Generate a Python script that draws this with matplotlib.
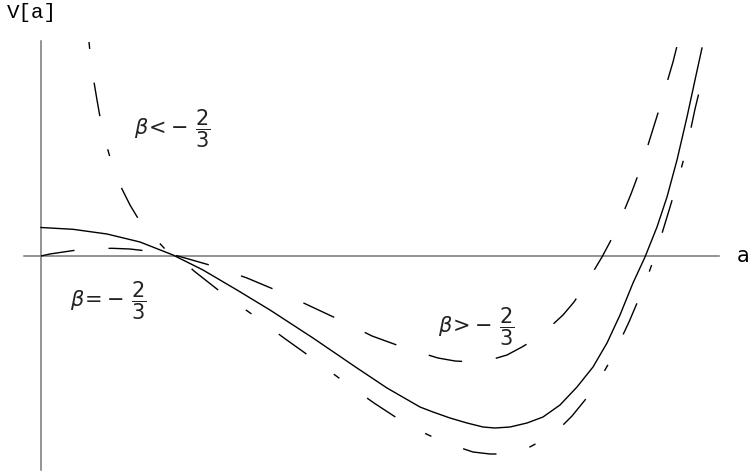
import matplotlib
matplotlib.use("Agg")
import matplotlib.pyplot as plt

plt.rcParams['mathtext.fontset'] = 'dejavusans'

# beta = -2/3 (solid)
a_eq = [0, 0.16, 0.33, 0.495, 0.66, 0.81, 0.98, 1.145, 1.36, 1.58, 1.73, 1.895,
        1.96, 2.045, 2.13, 2.21, 2.27, 2.345, 2.43, 2.51, 2.595, 2.68, 2.76, 2.83,
        2.895, 2.96, 3.02, 3.08, 3.13, 3.18, 3.23, 3.27, 3.305]
v_eq = [0.285, 0.267, 0.22, 0.14, 0.01, -0.14, -0.34, -0.54, -0.82, -1.12, -1.32, -1.51,
        -1.56, -1.62, -1.67, -1.71, -1.72, -1.71, -1.67, -1.61, -1.49, -1.31, -1.11, -0.87,
        -0.59, -0.27, -0.01, 0.29, 0.59, 0.96, 1.39, 1.76, 2.08]

# beta > -2/3 (long dashes)
a_gt = [0, 0.045, 0.095, 0.18, 0.27, 0.355, 0.445, 0.53, 0.62, 0.685, 0.755, 0.86,
        0.945, 1.03, 1.185, 1.345, 1.505, 1.655, 1.82, 1.895, 1.985, 2.07, 2.16, 2.245,
        2.33, 2.405, 2.48, 2.545, 2.61, 2.665, 2.715, 2.76, 2.805, 2.845, 2.88, 2.915,
        2.95, 2.98, 3.005, 3.035, 3.06, 3.085, 3.11, 3.135, 3.16, 3.185]
v_gt = [0, 0.02, 0.035, 0.06, 0.072, 0.077, 0.07, 0.05, 0.025, 0, -0.04, -0.10,
        -0.16, -0.22, -0.35, -0.50, -0.65, -0.80, -0.92, -0.965, -1.02, -1.05, -1.06, -1.04,
        -0.99, -0.91, -0.82, -0.71, -0.59, -0.46, -0.31, -0.16, -0.01, 0.14, 0.29, 0.45,
        0.62, 0.78, 0.94, 1.11, 1.27, 1.43, 1.60, 1.77, 1.94, 2.14]

# beta < -2/3 (dash-dot)
a_lt = [0.24, 0.25, 0.265, 0.28, 0.295, 0.315, 0.34, 0.37, 0.405, 0.445, 0.49, 0.545,
        0.62, 0.685, 0.765, 0.905, 1.06, 1.215, 1.355, 1.51, 1.665, 1.81, 1.895, 1.98,
        2.07, 2.16, 2.245, 2.335, 2.425, 2.51, 2.585, 2.655, 2.765, 2.86, 2.94, 3.01,
        3.075, 3.13, 3.18, 3.23, 3.27, 3.31, 3.32]
v_lt = [2.14, 1.94, 1.74, 1.56, 1.39, 1.21, 1.02, 0.84, 0.67, 0.51, 0.36, 0.23,
        0.07, 0, -0.15, -0.37, -0.59, -0.82, -1.02, -1.25, -1.47, -1.66, -1.75, -1.83,
        -1.90, -1.96, -1.98, -1.98, -1.93, -1.84, -1.74, -1.60, -1.33, -1.00, -0.66, -0.33,
        0.03, 0.39, 0.72, 1.09, 1.47, 1.80, 1.90]

fig = plt.figure(figsize=(7.54, 4.73), dpi=100)
ax = fig.add_axes([0, 0, 1, 1])
ax.set_xlim(-0.205, 3.565)
ax.set_ylim(-2.17, 2.56)
ax.axis('off')

# axes through the origin
axis_col = '#777777'
ax.plot([-0.085, 3.39], [0, 0], color=axis_col, lw=1.1)
ax.plot([0, 0], [-2.14, 2.15], color=axis_col, lw=1.1)

ax.plot(a_eq, v_eq, color='black', lw=1.0)
ax.plot(a_gt, v_gt, color='black', lw=1.0, ls=(0, (24.5, 24.5)))
ax.plot(a_lt, v_lt, color='black', lw=1.0, ls=(0, (5, 24.5, 24.5, 24.5)))

ax.text(-0.17, 2.44, 'V[a]', family='Liberation Mono', fontsize=15, va='center', ha='left')
ax.text(3.48, 0, 'a', family='DejaVu Sans', fontsize=15, va='center', ha='left')

lab = dict(fontsize=15, ha='center', va='center', color='#222222')
ax.text(0.655, 1.27, r'$\beta\!<\!-\,\dfrac{2}{3}$', **lab)
ax.text(0.335, -0.45, r'$\beta\!=\!-\,\dfrac{2}{3}$', **lab)
ax.text(2.175, -0.71, r'$\beta\!>\!-\,\dfrac{2}{3}$', **lab)

fig.savefig('out.png', dpi=100)
